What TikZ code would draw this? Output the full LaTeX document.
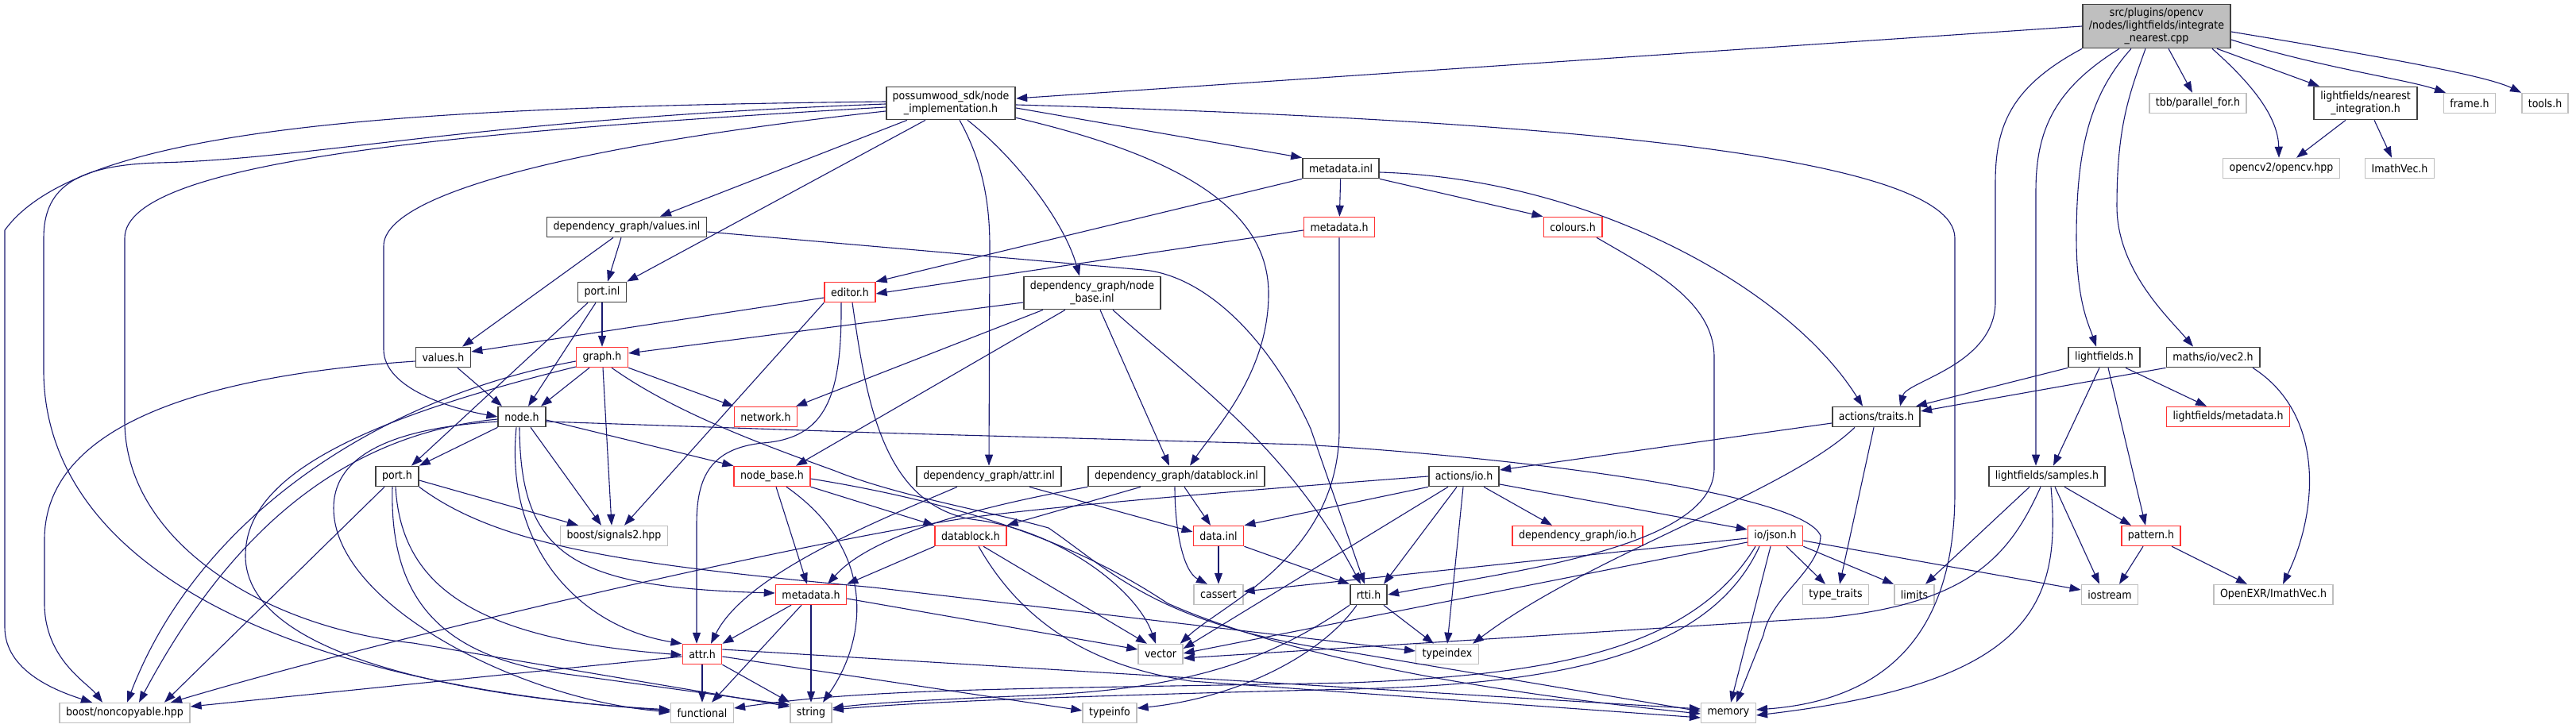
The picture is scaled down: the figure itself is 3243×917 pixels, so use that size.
\documentclass[tikz,border=0pt]{standalone}
\usepackage{fontspec}
\setmainfont{DejaVu Sans Condensed}
\usetikzlibrary{arrows.meta}
\definecolor{edgeblue}{HTML}{191970}
\definecolor{truncred}{HTML}{FF3333}
\definecolor{sysgray}{HTML}{BFBFBF}
\definecolor{hdrgray}{HTML}{404040}

\begin{document}
\begin{tikzpicture}[
  x=1pt, y=-1pt,
  font=\fontsize{14}{16}\selectfont,
  file/.style={draw=hdrgray, line width=1.7pt, fill=white, align=center, inner xsep=8pt, inner ysep=3pt, minimum height=25pt},
  trunc/.style={file, draw=truncred, line width=1.5pt},
  sys/.style={file, draw=sysgray, line width=1.5pt},
  root/.style={file, fill=sysgray, minimum height=55pt},
  twoline/.style={minimum height=41pt},
  inc/.style={-{Triangle[length=14pt,width=10pt]}, draw=edgeblue, line width=1.1pt}]
\useasboundingbox (0,0) rectangle (3243,917);
% --- top rows ---
\node[root] (R) at (2715,33) {src/plugins/opencv\\/nodes/lightfields/integrate\\\_nearest.cpp};
\node[file, twoline] (P) at (1197,130) {possumwood\_sdk/node\\\_implementation.h};
\node[sys] (tbb) at (2767,130) {tbb/parallel\_for.h};
\node[file, twoline] (NI) at (2978,130) {lightfields/nearest\\\_integration.h};
\node[sys] (frame) at (3109,130) {frame.h};
\node[sys] (tools) at (3204,130) {tools.h};
\node[file] (mdinl) at (1688,212) {metadata.inl};
\node[sys] (opencv) at (2872,212) {opencv2/opencv.hpp};
\node[sys] (imath) at (3021,212) {ImathVec.h};
\node[file] (valinl) at (789,286) {dependency\_graph/values.inl};
\node[trunc] (mdu) at (1686,286) {metadata.h};
\node[trunc] (colours) at (1980,286) {colours.h};
\node[file] (portinl) at (758,368) {port.inl};
\node[trunc] (editor) at (1070,368) {editor.h};
\node[file, twoline] (nbinl) at (1375,369) {dependency\_graph/node\\\_base.inl};
\node[file] (valh) at (558,450) {values.h};
\node[trunc] (graph) at (758,450) {graph.h};
\node[file] (lf) at (2649,450) {lightfields.h};
\node[file] (vec2) at (2786,450) {maths/io/vec2.h};
% --- middle rows ---
\node[file] (nodeh) at (657,525) {node.h};
\node[trunc] (network) at (964,525) {network.h};
\node[file] (traits) at (2362,525) {actions/traits.h};
\node[trunc] (lfmeta) at (2805,525) {lightfields/metadata.h};
\node[file] (porth) at (500,600) {port.h};
\node[trunc] (nbh) at (972,600) {node\_base.h};
\node[file] (attrinl) at (1245,600) {dependency\_graph/attr.inl};
\node[file] (dbinl) at (1481,600) {dependency\_graph/datablock.inl};
\node[file] (aio) at (1843,600) {actions/io.h};
\node[file] (ls) at (2577,600) {lightfields/samples.h};
\node[sys] (sig) at (773,675) {boost/signals2.hpp};
\node[trunc] (dbh) at (1222,675) {datablock.h};
\node[trunc] (datainl) at (1534,675) {data.inl};
\node[trunc] (dgio) at (1986,675) {dependency\_graph/io.h};
\node[trunc] (json) at (2235,675) {io/json.h};
\node[trunc] (pattern) at (2708,675) {pattern.h};
% --- bottom rows ---
\node[trunc] (mdl) at (1021,749) {metadata.h};
\node[sys] (cassert) at (1534,749) {cassert};
\node[file] (rtti) at (1723,749) {rtti.h};
\node[sys] (typetr) at (2311,749) {type\_traits};
\node[sys] (limits) at (2410,749) {limits};
\node[sys] (iostream) at (2656,749) {iostream};
\node[sys] (openexr) at (2862,749) {OpenEXR/ImathVec.h};
\node[trunc] (attrh) at (884,824) {attr.h};
\node[sys] (vector) at (1461,824) {vector};
\node[sys] (typeindex) at (1822,824) {typeindex};
\node[sys] (nc) at (157,898) {boost/noncopyable.hpp};
\node[sys] (fn) at (884,898) {functional};
\node[sys] (str) at (1021,898) {string};
\node[sys] (typeinfo) at (1397,898) {typeinfo};
\node[sys] (mem) at (2176,898) {memory};
% --- edges from the .cpp ---
\draw[inc] (R.west) -- ([yshift=6pt]P.east);
\draw[inc] (R.south west) .. controls (2530,110) and (2512,160) .. (2512,230) -- (2512,380) .. controls (2512,460) and (2400,480) .. ([xshift=30pt]traits.north);
\draw[inc] ([xshift=-47pt]R.south) .. controls (2590,110) and (2563,160) .. (2563,240) -- ([xshift=-14pt]ls.north);
\draw[inc] ([xshift=-32pt]R.south) .. controls (2630,120) and (2614,190) .. (2614,300) .. controls (2614,380) and (2630,410) .. ([xshift=-10pt]lf.north);
\draw[inc] ([xshift=-14pt]R.south) .. controls (2680,120) and (2665,160) .. (2665,260) .. controls (2665,340) and (2730,400) .. ([xshift=-25pt]vec2.north);
\draw[inc] ([xshift=15pt]R.south) -- ([xshift=-7pt]tbb.north);
\draw[inc] ([xshift=70pt]R.south) .. controls (2840,110) and (2868,150) .. ([xshift=-3pt]opencv.north);
\draw[inc] ([xshift=76pt]R.south) -- ([xshift=-58pt]NI.north);
\draw[inc] ([yshift=-17pt]R.east) .. controls (2920,85) and (3030,100) .. ([xshift=-30pt]frame.north);
\draw[inc] ([yshift=-7pt]R.east) .. controls (2990,70) and (3130,95) .. ([xshift=-30pt]tools.north);
\draw[inc] ([xshift=-25pt]NI.south) -- ([xshift=19pt]opencv.north);
\draw[inc] ([xshift=11pt]NI.south) -- ([xshift=-10pt]imath.north);
% --- node_implementation.h ---
\draw[inc] ([yshift=2pt]P.west) .. controls (500,135) and (100,160) .. (6,290) -- (6,790) .. controls (6,845) and (70,870) .. ([xshift=-41pt]nc.north);
\draw[inc] ([yshift=-1pt]P.west) .. controls (600,150) and (400,200) .. (200,205) .. controls (90,208) and (55,240) .. (55,300) -- (55,470) .. controls (58,700) and (330,860) .. ([yshift=3pt]fn.west);
\draw[inc] ([yshift=-5pt]P.west) .. controls (600,165) and (157,200) .. (157,300) -- (157,530) .. controls (157,680) and (330,790) .. (520,810) -- ([yshift=8pt]str.west);
\draw[inc] ([yshift=-10pt]P.west) .. controls (750,180) and (483,240) .. (483,310) -- (483,440) .. controls (483,490) and (570,515) .. (nodeh.west);
\draw[inc] ([xshift=-55pt]P.south) -- ([xshift=42pt]valinl.north);
\draw[inc] ([xshift=-32pt]P.south) -- (portinl.north east);
\draw[inc] ([xshift=11pt]P.south) .. controls (1235,200) and (1246,250) .. (1246,310) -- (attrinl.north);
\draw[inc] ([xshift=21pt]P.south) .. controls (1280,200) and (1340,280) .. ([xshift=-16pt]nbinl.north);
\draw[inc] ([yshift=3pt]P.south east) .. controls (1500,200) and (1597,270) .. (1597,370) .. controls (1597,470) and (1530,540) .. ([xshift=17pt]dbinl.north);
\draw[inc] ([yshift=-6pt]P.east) -- (mdinl.north west);
\draw[inc] ([yshift=-2pt]P.east) .. controls (1900,150) and (2461,190) .. (2461,300) -- (2461,620) .. controls (2461,770) and (2400,880) .. ([yshift=4pt]mem.east);
% --- metadata.inl, colours.h ---
\draw[inc] (mdinl) -- (mdu);
\draw[inc] (mdinl.south east) -- (colours.north west);
\draw[inc] (mdinl.south west) -- (editor.north east);
\draw[inc] ([yshift=-5pt]mdinl.east) .. controls (2000,225) and (2250,360) .. ([xshift=-17pt]traits.north);
\draw[inc] ([yshift=-4pt]mdu.west) -- ([yshift=-2pt]editor.east);
\draw[inc] (mdu.south) -- (1686,540) .. controls (1686,700) and (1540,760) .. ([xshift=-4pt]vector.north east);
\draw[inc] ([xshift=30pt]colours.south) .. controls (2080,340) and (2158,380) .. (2158,450) -- (2158,590) .. controls (2158,690) and (1900,720) .. (rtti.east);
% --- values.inl, port.inl, editor.h ---
\draw[inc] ([xshift=-7pt]valinl.south) -- ([xshift=7pt]portinl.north);
\draw[inc] ([xshift=-17pt]valinl.south) -- ([xshift=24pt]valh.north);
\draw[inc] ([yshift=-6pt]valinl.east) -- (1440,340) .. controls (1520,348) and (1600,430) .. (1650,540) -- ([xshift=-5pt]rtti.north);
\draw[inc] (portinl) -- (graph);
\draw[inc] ([xshift=-8pt]portinl.south) -- ([xshift=8pt]nodeh.north);
\draw[inc] ([xshift=-18pt]portinl.south) -- ([xshift=18pt]porth.north);
\draw[inc] ([yshift=-7pt]editor.west) -- ([yshift=7pt]valh.east);
\draw[inc] (editor.south west) -- ([xshift=13pt]sig.north);
\draw[inc] ([xshift=-11pt]editor.south) .. controls (1060,500) and (1040,552) .. (960,558) .. controls (895,565) and (877,600) .. (877,660) -- ([xshift=-7pt]attrh.north);
\draw[inc] ([xshift=3pt]editor.south) .. controls (1090,500) and (1110,640) .. (1230,655) .. controls (1330,668) and (1430,740) .. ([xshift=-6pt]vector.north);
% --- node_base.inl ---
\draw[inc] ([yshift=-12pt]nbinl.west) -- ([yshift=5pt]graph.east);
\draw[inc] ([xshift=-62pt]nbinl.south) -- ([xshift=38pt]network.north);
\draw[inc] ([xshift=-34pt]nbinl.south) -- ([xshift=30pt]nbh.north);
\draw[inc] ([xshift=10pt]nbinl.south) -- ([xshift=-9pt]dbinl.north);
\draw[inc] ([xshift=26pt]nbinl.south) .. controls (1500,480) and (1620,560) .. ([xshift=-10pt]rtti.north);
% --- values.h, graph.h ---
\draw[inc] ([xshift=18pt]valh.south) -- ([xshift=-25pt]nodeh.north);
\draw[inc] ([yshift=-5pt]valh.west) .. controls (300,470) and (56,520) .. (56,680) -- (56,760) .. controls (56,830) and (110,860) .. ([xshift=-28pt]nc.north);
\draw[inc] ([xshift=-16pt]graph.south) -- ([xshift=24pt]nodeh.north);
\draw[inc] ([xshift=1pt]graph.south) -- ([xshift=-3pt]sig.north);
\draw[inc] (graph.south east) -- (network.north west);
\draw[inc] ([yshift=-5pt]graph.west) .. controls (480,500) and (250,650) .. ([xshift=3pt]nc.north);
\draw[inc] ([yshift=-12pt]graph.west) .. controls (450,530) and (309,600) .. (309,700) .. controls (309,830) and (600,880) .. ([yshift=4pt]fn.west);
\draw[inc] ([xshift=12pt]graph.south) .. controls (850,520) and (960,560) .. (1051,593) .. controls (1130,625) and (1250,645) .. (1320,665) .. controls (1400,720) and (1460,790) .. (1702,822) -- ([yshift=2pt]mem.west);
% --- lightfields.h, vec2.h, traits.h ---
\draw[inc] (lf.south west) -- ([xshift=50pt]traits.north);
\draw[inc] ([xshift=-6pt]lf.south) -- ([xshift=8pt]ls.north);
\draw[inc] ([xshift=5pt]lf.south) -- ([xshift=-7pt]pattern.north);
\draw[inc] ([xshift=27pt]lf.south) -- ([xshift=-27pt]lfmeta.north);
\draw[inc] (vec2.south west) -- ([yshift=7pt]traits.east);
\draw[inc] ([xshift=50pt]vec2.south) .. controls (2925,520) and (2920,640) .. ([xshift=12pt]openexr.north);
\draw[inc] ([yshift=-8pt]traits.west) -- ([yshift=8pt]aio.east);
\draw[inc] ([xshift=-3pt]traits.south) -- ([xshift=5pt]typetr.north);
\draw[inc] ([xshift=-27pt]traits.south) .. controls (2250,620) and (2000,700) .. ([xshift=32pt]typeindex.north);
% --- actions/io.h ---
\draw[inc] (aio.south west) -- (datainl.north east);
\draw[inc] ([xshift=-9pt]aio.south) -- ([xshift=19pt]rtti.north);
\draw[inc] ([xshift=-1pt]aio.south) -- (typeindex.north);
\draw[inc] ([xshift=25pt]aio.south) -- ([xshift=-32pt]dgio.north);
\draw[inc] ([yshift=-10pt]aio.east) -- ([yshift=8pt]json.west);
\draw[inc] ([xshift=-20pt]aio.south) -- ([yshift=7pt]vector.east);
\draw[inc] (aio.west) .. controls (1600,615) and (1350,635) .. (1220,652) .. controls (1000,685) and (500,800) .. ([xshift=58pt]nc.north);
% --- samples.h, pattern.h ---
\draw[inc] ([xshift=22pt]ls.south) -- ([xshift=-25pt]pattern.north);
\draw[inc] ([xshift=10pt]ls.south) -- ([xshift=-13pt]iostream.north);
\draw[inc] ([xshift=-22pt]ls.south) -- ([xshift=14pt]limits.north);
\draw[inc] ([xshift=5pt]ls.south) .. controls (2595,760) and (2560,860) .. ([yshift=-3pt]mem.east);
\draw[inc] ([xshift=-8pt]ls.south) .. controls (2530,700) and (2480,760) .. (2300,778) -- ([yshift=-5pt]vector.east);
\draw[inc] ([xshift=-10pt]pattern.south) -- ([xshift=12pt]iostream.north);
\draw[inc] ([xshift=26pt]pattern.south) -- ([xshift=-33pt]openexr.north);
% --- io/json.h ---
\draw[inc] ([yshift=-3pt]json.west) -- ([yshift=4pt]cassert.east);
\draw[inc] ([yshift=-8pt]json.west) -- ([yshift=1pt]vector.east);
\draw[inc] ([xshift=-20pt]json.south) .. controls (2150,830) and (1950,862) .. (1700,868) .. controls (1300,878) and (1150,885) .. ([yshift=4pt]str.east);
\draw[inc] ([xshift=-25pt]json.south) .. controls (2130,820) and (1950,850) .. (1700,860) .. controls (1300,868) and (1100,866) .. ([yshift=6pt]fn.east);
\draw[inc] ([xshift=-6pt]json.south) -- ([xshift=3pt]mem.north);
\draw[inc] ([xshift=14pt]json.south) -- ([xshift=-13pt]typetr.north);
\draw[inc] (json.south east) -- (limits.north west);
\draw[inc] ([yshift=-6pt]json.east) -- ([yshift=6pt]iostream.west);
% --- data.inl, attr.inl, datablock.inl, datablock.h ---
\draw[inc] (datainl) -- (cassert);
\draw[inc] (datainl.south east) -- (rtti.north west);
\draw[inc] ([xshift=-40pt]attrinl.south) .. controls (1120,650) and (940,720) .. ([xshift=11pt]attrh.north);
\draw[inc] ([xshift=51pt]attrinl.south) -- ([yshift=5pt]datainl.west);
\draw[inc] ([xshift=-45pt]dbinl.south) -- (dbh.north east);
\draw[inc] ([xshift=10pt]dbinl.south) -- ([xshift=-10pt]datainl.north);
\draw[inc] ([xshift=-2pt]dbinl.south) .. controls (1479,670) and (1490,720) .. ([xshift=-14pt]cassert.north);
\draw[inc] (dbinl.south west) .. controls (1250,635) and (1100,670) .. ([xshift=21pt]mdl.north);
\draw[inc] (dbh.south west) -- (mdl.north east);
\draw[inc] ([xshift=16pt]dbh.south) -- ([xshift=-17pt]vector.north);
\draw[inc] ([xshift=10pt]dbh.south) .. controls (1290,790) and (1380,840) .. (1500,858) -- ([yshift=-6pt]mem.west);
% --- port.h, node.h, node_base.h ---
\draw[inc] ([yshift=-5pt]porth.east) -- ([xshift=-45pt]sig.north);
\draw[inc] (porth.south east) .. controls (630,690) and (800,712) .. (1100,740) -- ([yshift=4pt]typeindex.west);
\draw[inc] ([xshift=-16pt]porth.south) -- ([xshift=50pt]nc.north);
\draw[inc] ([xshift=-2pt]porth.south) .. controls (505,740) and (600,805) .. ([yshift=-1pt]attrh.west);
\draw[inc] ([xshift=-6pt]porth.south) .. controls (490,760) and (560,830) .. (720,850) -- ([yshift=10pt]str.west);
\draw[inc] (nodeh.south west) -- (porth.north east);
\draw[inc] ([xshift=11pt]nodeh.south) -- ([xshift=-16pt]sig.north);
\draw[inc] ([yshift=-4pt]nodeh.east) -- (nbh.north west);
\draw[inc] ([xshift=-3pt]nodeh.south) .. controls (655,700) and (720,740) .. ([yshift=2pt]mdl.west);
\draw[inc] ([xshift=-7pt]nodeh.south) .. controls (635,690) and (730,790) .. (attrh.north west);
\draw[inc] ([yshift=-3pt]nodeh.west) .. controls (450,545) and (300,650) .. ([xshift=18pt]nc.north);
\draw[inc] ([yshift=-6pt]nodeh.west) .. controls (480,540) and (420,580) .. (420,640) .. controls (420,760) and (650,880) .. ([yshift=1pt]fn.west);
\draw[inc] ([yshift=-6pt]nodeh.east) -- (1100,545) -- (1640,560) .. controls (1900,575) and (2270,620) .. (2292,675) .. controls (2290,720) and (2230,750) .. (2220,800) -- ([xshift=10pt]mem.north);
\draw[inc] ([xshift=5pt]nbh.south) -- ([xshift=-5pt]mdl.north);
\draw[inc] ([xshift=18pt]nbh.south) .. controls (1100,690) and (1095,800) .. ([xshift=15pt]str.north);
\draw[inc] (nbh.south east) -- (dbh.north west);
\draw[inc] ([yshift=-3pt]nbh.east) .. controls (1250,640) and (1380,700) .. (1470,760) .. controls (1560,800) and (1750,860) .. ([yshift=-1pt]mem.west);
% --- metadata.h, attr.h, rtti.h ---
\draw[inc] ([xshift=-25pt]mdl.south) -- (attrh.north east);
\draw[inc] ([xshift=-12pt]mdl.south) -- ([xshift=12pt]fn.north);
\draw[inc] (mdl) -- (str);
\draw[inc] ([yshift=-5pt]mdl.east) -- ([yshift=6pt]vector.west);
\draw[inc] (attrh) -- (fn);
\draw[inc] (attrh.south east) -- (str.north west);
\draw[inc] ([yshift=-3pt]attrh.east) -- ([yshift=3pt]typeinfo.west);
\draw[inc] ([yshift=6pt]attrh.east) -- ([yshift=5pt]mem.west);
\draw[inc] ([yshift=-3pt]attrh.west) -- ([yshift=8pt]nc.east);
\draw[inc] ([xshift=19pt]rtti.south) -- ([xshift=-17pt]typeindex.north);
\draw[inc] ([xshift=-15pt]rtti.south) .. controls (1660,830) and (1550,880) .. ([yshift=6pt]typeinfo.east);
\draw[inc] (rtti.south west) .. controls (1600,830) and (1500,868) .. (1300,876) .. controls (1200,880) and (1100,885) .. ([yshift=6pt]str.east);
\end{tikzpicture}
\end{document}
